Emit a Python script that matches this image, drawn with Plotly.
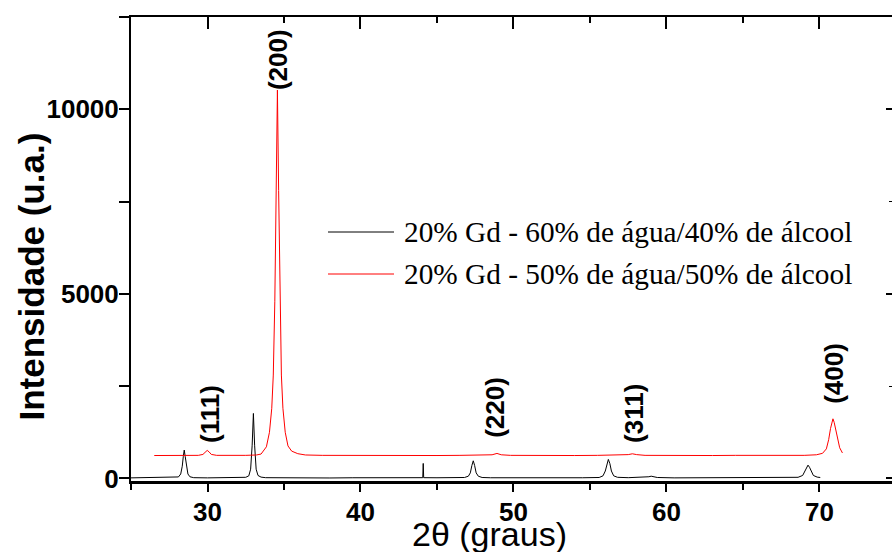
import plotly.graph_objects as go

# ---------------- data ----------------
x_agua60 = [25.0, 25.8, 26.6, 27.4, 27.9, 28.1, 28.25, 28.35, 28.42, 28.48, 28.54, 28.62, 28.72, 28.85, 29.1,
            30.0, 31.0, 32.0, 32.5, 32.7, 32.82, 32.92, 33.0, 33.08, 33.18, 33.3, 33.5, 33.8,
            35.0, 36.5, 38.0, 39.5, 41.0, 42.5, 43.8, 44.07, 44.1, 44.13, 45.0, 46.0,
            46.8, 47.05, 47.18, 47.28, 47.37, 47.46, 47.56, 47.7, 47.95, 48.5,
            50.0, 51.5, 53.0, 54.5, 55.6, 55.85, 56.0, 56.1, 56.2, 56.3, 56.4, 56.55, 56.8,
            57.5, 58.6, 58.85, 59.0, 59.15, 59.4, 60.5, 62.0, 63.5, 65.0, 66.5, 68.0,
            68.6, 68.9, 69.05, 69.15, 69.25, 69.35, 69.45, 69.6, 69.85, 70.05]
y_agua60 = [15, 20, 12, 18, 20, 40, 120, 330, 600, 767, 600, 330, 120, 45, 20,
            15, 20, 18, 30, 70, 250, 900, 1760, 900, 250, 80, 35, 20,
            15, 20, 12, 18, 15, 20, 15, 20, 406, 20, 18, 15,
            25, 60, 150, 350, 477, 350, 150, 60, 25, 18,
            15, 20, 15, 18, 25, 70, 200, 400, 515, 400, 200, 70, 30,
            20, 25, 45, 60, 45, 25, 15, 20, 15, 18, 15, 20,
            30, 80, 200, 300, 360, 300, 200, 80, 35, 25]

x_agua50 = [26.52, 27.5, 28.5, 29.4, 29.7, 29.85, 29.98, 30.1, 30.25, 30.6, 31.5, 32.5, 33.2, 33.5,
            33.85, 34.05, 34.2, 34.3, 34.4, 34.48, 34.57, 34.65, 34.73, 34.83, 34.93, 35.08, 35.26,
            35.5, 35.9, 36.4, 37.5, 39.0, 40.5, 42.0, 43.5, 45.0, 46.5, 48.0, 48.6, 48.92, 49.2,
            49.8, 51.0, 52.5, 54.0, 55.5, 57.0, 57.5, 57.77, 58.05, 58.6, 60.0, 61.5, 63.0, 64.5,
            66.0, 67.5, 69.0, 69.8, 70.2, 70.45, 70.6, 70.72, 70.8, 70.88, 70.96, 71.05, 71.18,
            71.32, 71.5]
y_agua50 = [620, 625, 618, 625, 650, 720, 759, 720, 650, 625, 620, 625, 635, 660,
            856, 1250, 1900, 2800, 4800, 7800, 10520, 7800, 4800, 2800, 1900, 1250, 880,
            740, 670, 635, 625, 620, 625, 620, 625, 620, 625, 622, 640, 677, 640,
            625, 620, 625, 620, 625, 625, 645, 667, 645, 625, 620, 625, 620, 625,
            620, 625, 625, 640, 680, 800, 1050, 1350, 1520, 1615, 1520, 1330, 1050,
            830, 690]

series_names = ["20% Gd - 60% de água/40% de álcool", "20% Gd - 50% de água/50% de álcool"]
series_colors = ["#000000", "#ff0000"]

peak_labels = ["(111)", "(200)", "(220)", "(311)", "(400)"]
peak_label_x = [30.15, 34.65, 48.74, 57.91, 70.98]
peak_label_y = [1742, 11350, 1919, 1761, 2846]

x_range = [25, 74.74]
y_range = [-70, 12500]

# ---------------- layout geometry (pixels) ----------------
W, H = 892, 552
ML, MR, MT, MB = 131, 0, 17, 71
PW, PH = W - ML - MR, H - MT - MB


def px(xp):
    return (xp - ML) / PW


def py(yp):
    return (H - MB - yp) / PH


fig = go.Figure()
fig.add_trace(go.Scatter(x=x_agua60, y=y_agua60, mode="lines", name=series_names[0],
                         line=dict(color=series_colors[0], width=1), showlegend=False))
fig.add_trace(go.Scatter(x=x_agua50, y=y_agua50, mode="lines", name=series_names[1],
                         line=dict(color=series_colors[1], width=1), showlegend=False))

tickfont = dict(family="Liberation Sans", size=26, color="black", weight="bold")

fig.update_layout(
    width=W, height=H,
    margin=dict(l=ML, r=MR, t=MT, b=MB, autoexpand=False),
    paper_bgcolor="white", plot_bgcolor="white",
    xaxis=dict(range=x_range, showline=True, linecolor="black", linewidth=3, automargin=False,
               ticks="outside", ticklen=8, tickwidth=2, tickcolor="black", ticklabelstandoff=-2,
               tick0=0, dtick=10, showgrid=False, zeroline=False, tickfont=tickfont,
               minor=dict(dtick=5, tick0=0, ticks="outside", ticklen=6, tickwidth=2,
                          tickcolor="black", showgrid=False)),
    xaxis2=dict(range=x_range, overlaying="x", side="top", anchor="y", matches="x", automargin=False,
                showline=True, linecolor="black", linewidth=2,
                ticks="inside", ticklen=12, tickwidth=2, tickcolor="black",
                tick0=0, dtick=10, showgrid=False, zeroline=False, showticklabels=False,
                minor=dict(dtick=5, tick0=0, ticks="inside", ticklen=6, tickwidth=2,
                           tickcolor="black", showgrid=False)),
    yaxis=dict(range=y_range, showline=True, linecolor="black", linewidth=2, automargin=False,
               ticks="outside", ticklen=10, tickwidth=2, tickcolor="black", ticklabelstandoff=-5,
               tick0=0, dtick=5000, tickformat="d", showgrid=False, zeroline=False, tickfont=tickfont,
               minor=dict(dtick=2500, tick0=0, ticks="outside", ticklen=10, tickwidth=2,
                          tickcolor="black", showgrid=False)),
    yaxis2=dict(range=y_range, overlaying="y", side="right", anchor="x", matches="y", automargin=False,
                showline=False, ticks="inside", ticklen=6, tickwidth=2, tickcolor="black",
                tick0=0, dtick=5000, showgrid=False, zeroline=False, showticklabels=False,
                minor=dict(dtick=2500, tick0=0, ticks="inside", ticklen=3, tickwidth=1,
                           tickcolor="black", showgrid=False)),
)

# invisible trace so the mirror axes are drawn
fig.add_trace(go.Scatter(x=[x_range[0]], y=[y_range[0]], xaxis="x2", yaxis="y2", mode="markers",
                         marker=dict(opacity=0), showlegend=False, hoverinfo="skip"))

annotations = []
for lab, lx, ly in zip(peak_labels, peak_label_x, peak_label_y):
    annotations.append(dict(x=lx, y=ly, xref="x", yref="y", text=lab, showarrow=False,
                            textangle=-90, xanchor="center", yanchor="middle",
                            font=dict(family="Liberation Sans", size=26, color="black", weight="bold")))

annotations.append(dict(x=px(31), y=py(276.5), xref="paper", yref="paper",
                        text="Intensidade (u.a.)", showarrow=False, textangle=-90,
                        xanchor="center", yanchor="middle",
                        font=dict(family="Liberation Sans", size=35, color="black", weight="bold")))
annotations.append(dict(x=px(489.5), y=py(533.5), xref="paper", yref="paper",
                        text="2θ (graus)", showarrow=False,
                        xanchor="center", yanchor="middle",
                        font=dict(family="Liberation Sans", size=34, color="black")))

# legend (drawn by hand to match the long sample lines)
legend_rows_y = [232, 274]
shapes = []
for name, col, ry in zip(series_names, series_colors, legend_rows_y):
    shapes.append(dict(type="line", xref="paper", yref="paper",
                       x0=px(328), x1=px(394), y0=py(ry), y1=py(ry),
                       line=dict(color=col, width=1)))
    annotations.append(dict(x=px(402), y=py(ry), xref="paper", yref="paper", text=name,
                            showarrow=False, xanchor="left", yanchor="middle",
                            font=dict(family="Liberation Serif", size=29.3, color="black")))

fig.update_layout(annotations=annotations, shapes=shapes)

fig.write_html("out.html", config={"displayModeBar": False},
               post_script="document.body.style.margin='0';document.body.style.overflow='hidden';")
